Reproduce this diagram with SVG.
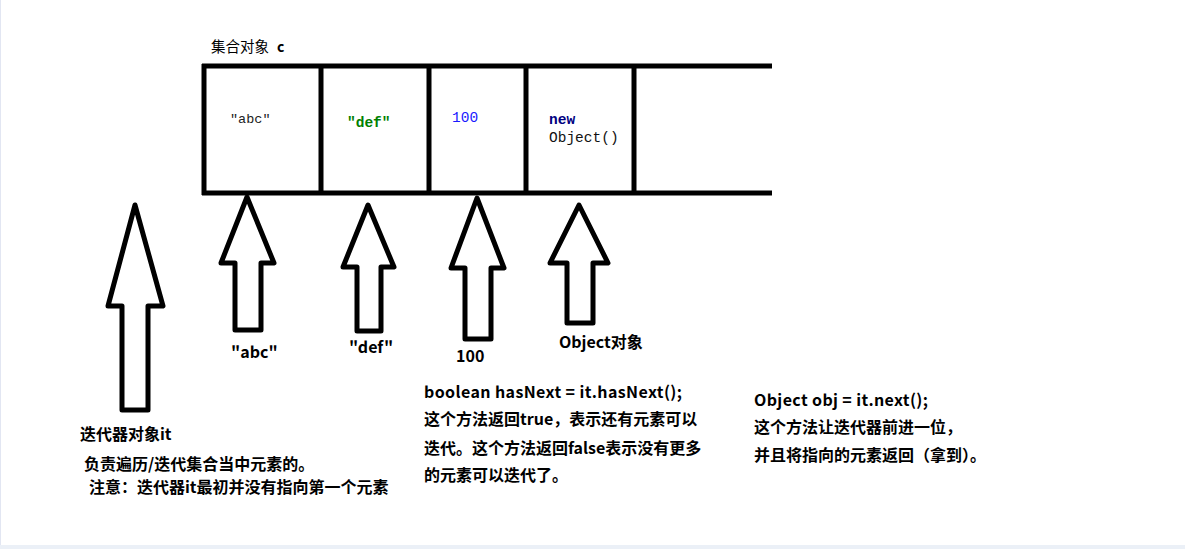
<svg xmlns="http://www.w3.org/2000/svg" width="1185" height="549" viewBox="0 0 1185 549">
<style>
.ln{stroke:#000;stroke-width:5;fill:none}
.ar{stroke:#000;stroke-width:5;fill:#fff;stroke-linejoin:round}
.cjk{font-family:"Noto Sans CJK SC","Liberation Sans",sans-serif;font-size:16px;font-weight:bold;fill:#000}
.mono{font-family:"Liberation Mono","DejaVu Sans Mono",monospace;font-size:14.5px}
</style>
<rect x="0" y="0" width="1185" height="549" fill="#fff"/>
<line x1="0.5" y1="0" x2="0.5" y2="545" stroke="#e2e6f2" stroke-width="1"/>
<rect x="0" y="545" width="1185" height="4" fill="#ebf0f7"/>

<g id="collection">
  <text x="211" y="52" class="cjk" style="font-size:14.5px;font-weight:normal">集合对象</text>
  <text x="277" y="52" class="cjk" style="font-size:14px">c</text>
  <line class="ln" x1="202" y1="66" x2="772" y2="66"/>
  <line class="ln" x1="202" y1="193" x2="772" y2="193"/>
  <line class="ln" x1="204" y1="64" x2="204" y2="195"/>
  <line class="ln" x1="321" y1="64" x2="321" y2="195"/>
  <line class="ln" x1="429" y1="64" x2="429" y2="195"/>
  <line class="ln" x1="526" y1="64" x2="526" y2="195"/>
  <line class="ln" x1="634" y1="64" x2="634" y2="195"/>
  <text x="230" y="123" class="mono" style="font-size:13.5px" fill="#222">"abc"</text>
  <text x="347" y="127" class="mono" font-weight="bold" fill="#008000">"def"</text>
  <text x="452" y="122" class="mono" fill="#1a1aff">100</text>
  <text x="549" y="124" class="mono" font-weight="bold" fill="#000080">new</text>
  <text x="549" y="142" class="mono" fill="#111">Object()</text>
</g>

<g id="arrow-it">
  <polygon class="ar" points="135,205 163,306 148,306 148,410 122,410 122,306 108,306"/>
  <text x="80" y="440" class="cjk">迭代器对象it</text>
  <text x="84" y="470" class="cjk">负责遍历/迭代集合当中元素的。</text>
  <text x="89" y="493" class="cjk">注意：迭代器it最初并没有指向第一个元素</text>
</g>

<g id="arrow-abc">
  <polygon class="ar" points="247,197 274,263 261,263 261,330 235,330 235,263 221,263"/>
  <text x="231" y="358" class="cjk">"abc"</text>
</g>

<g id="arrow-def">
  <polygon class="ar" points="368,205 394,267 381,267 381,331 357,331 357,267 343,267"/>
  <text x="349" y="353" class="cjk">"def"</text>
</g>

<g id="arrow-100">
  <polygon class="ar" points="477,198 504,268 491,268 491,339 465,339 465,268 451,268"/>
  <text x="456" y="362" class="cjk">100</text>
</g>

<g id="arrow-object">
  <polygon class="ar" points="579,205 608,263 593,263 593,323 567,323 567,263 550,263"/>
  <text x="559" y="348" class="cjk">Object对象</text>
</g>

<g id="hasnext-note">
  <text x="424" y="398" class="cjk" textLength="258" lengthAdjust="spacing">boolean hasNext = it.hasNext();</text>
  <text x="424" y="425" class="cjk">这个方法返回true，表示还有元素可以</text>
  <text x="424" y="454" class="cjk">迭代。这个方法返回false表示没有更多</text>
  <text x="424" y="481" class="cjk">的元素可以迭代了。</text>
</g>

<g id="next-note">
  <text x="754" y="406" class="cjk" textLength="174" lengthAdjust="spacing">Object obj = it.next();</text>
  <text x="754" y="433" class="cjk">这个方法让迭代器前进一位，</text>
  <text x="754" y="461" class="cjk">并且将指向的元素返回（拿到）。</text>
</g>

<g id="connectors"></g>
</svg>
